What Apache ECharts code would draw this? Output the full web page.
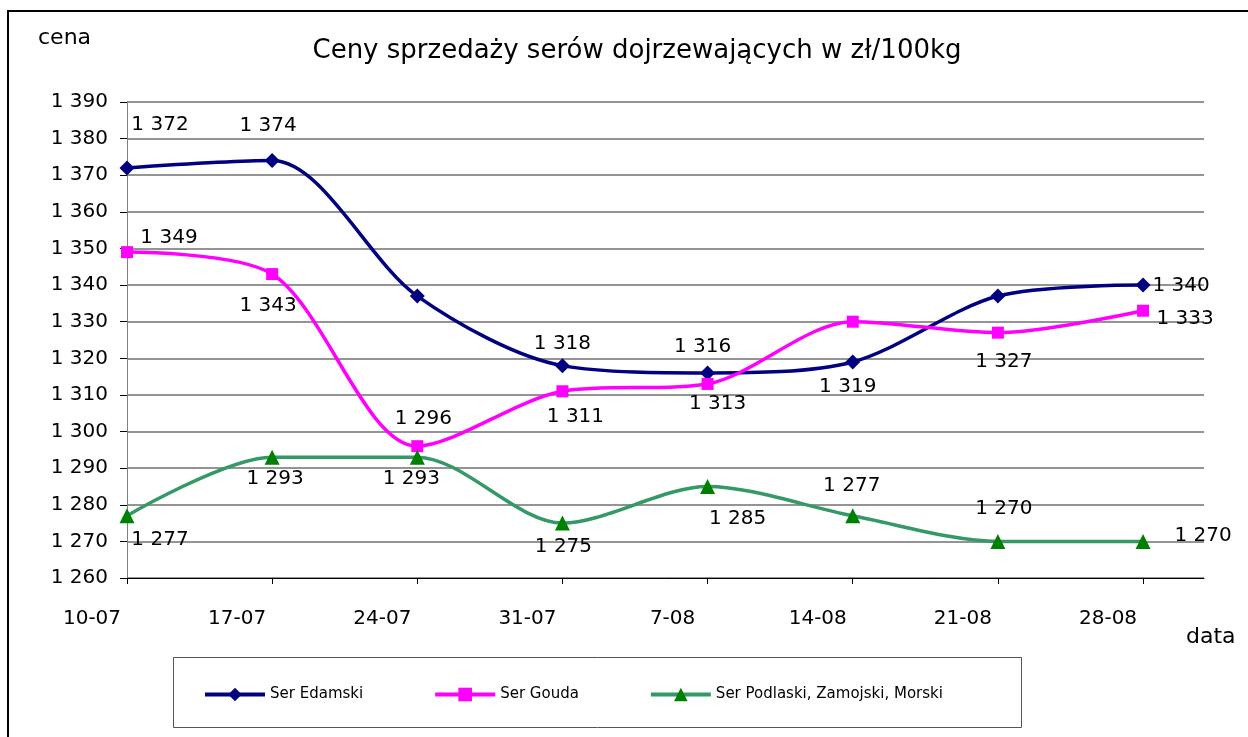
<!DOCTYPE html>
<html>
<head>
<meta charset="utf-8">
<script src="https://cdn.jsdelivr.net/npm/echarts@6/dist/echarts.min.js"></script>
<style>
  html, body { margin: 0; padding: 0; background: #fff; }
  #chart { width: 1248px; height: 737px; }
</style>
</head>
<body>
<div id="chart"></div>
<script>
// data
var categories = ['10-07', '17-07', '24-07', '31-07', '7-08', '14-08', '21-08', '28-08'];
var edamski = [1372, 1374, 1337, 1318, 1316, 1319, 1337, 1340];
var gouda = [1349, 1343, 1296, 1311, 1313, 1330, 1327, 1333];
var podlaski = [1277, 1293, 1293, 1275, 1285, 1277, 1270, 1270];
var yTicks = { min: 1260, max: 1390, step: 10 };

// where each value label sits relative to its point (null = not shown)
var edamskiLabelPos = [[33, -43], [-4, -35], null, [0, -22], [-5, -26], [-5, 25], null, [38, 1]];
var goudaLabelPos = [[42, -14], [-4, 32], [6, -27], [13, 26], [10, 20], null, [6, 29], [42, 8]];
var podlaskiLabelPos = [[33, 24], [3, 22], [-6, 22], [1, 24], [30, 32], [-1, -30], [6, -33], [60, -6]];

var FONT = '"DejaVu Sans", sans-serif';

function fmt(v) {
  return String(v).replace(/\B(?=(\d{3})+(?!\d))/g, ' ');
}

function buildData(values, pos) {
  return values.map(function (v, i) {
    var p = pos[i];
    return {
      value: [i, v],
      label: p ? { show: true, position: 'inside', offset: p } : { show: false }
    };
  });
}

function lineSeries(name, values, pos, color, lineColor, symbol, size) {
  return {
    name: name,
    type: 'line',
    smooth: 0.3,
    symbol: symbol,
    symbolSize: size,
    data: buildData(values, pos),
    itemStyle: { color: color },
    lineStyle: { color: lineColor, width: 3.5 },
    label: {
      show: true,
      color: '#000',
      fontFamily: FONT,
      fontSize: 20,
      formatter: function (p) { return fmt(p.value[1]); }
    },
    emphasis: { disabled: true }
  };
}

var xIdx = categories.map(function (c, i) { return i; });

var chart = echarts.init(document.getElementById('chart'));
chart.setOption({
  animation: false,
  backgroundColor: '#fff',
  grid: { left: 127, top: 102, right: 44, bottom: 159 },
  xAxis: {
    type: 'value',
    min: 0,
    max: 7.42,
    interval: 1,
    axisLine: { show: true, lineStyle: { color: '#000', width: 1 } },
    axisTick: { show: true, length: 6, customValues: xIdx, lineStyle: { color: '#000' } },
    splitLine: { show: false },
    axisLabel: {
      customValues: xIdx,
      margin: 31,
      color: '#000',
      fontFamily: FONT,
      fontSize: 20,
      padding: [0, 70, 0, 0],
      formatter: function (v) { return categories[v] || ''; }
    }
  },
  yAxis: {
    type: 'value',
    min: yTicks.min,
    max: yTicks.max,
    interval: yTicks.step,
    axisLine: { show: true, lineStyle: { color: '#808080', width: 1 } },
    axisTick: { show: true, length: 7, lineStyle: { color: '#000' } },
    splitLine: { show: true, lineStyle: { color: '#707070', width: 1.5 } },
    axisLabel: {
      margin: 19,
      color: '#000',
      fontFamily: FONT,
      fontSize: 20,
      formatter: fmt
    }
  },
  legend: {
    left: 198,
    top: 682,
    itemWidth: 60,
    itemHeight: 17,
    itemGap: 70,
    lineStyle: { width: 4 },
    textStyle: { fontFamily: FONT, fontSize: 15, color: '#000' },
    data: ['Ser Edamski', 'Ser Gouda', 'Ser Podlaski, Zamojski, Morski']
  },
  graphic: [
    { type: 'rect', shape: { x: 8, y: 11, width: 1400, height: 900 }, style: { fill: 'none', stroke: '#000', lineWidth: 2 }, silent: true },
    { type: 'rect', shape: { x: 173.5, y: 657.5, width: 848, height: 70 }, style: { fill: 'none', stroke: '#555', lineWidth: 1 }, silent: true },
    { type: 'text', x: 637, y: 51, style: { text: 'Ceny sprzedaży serów dojrzewających w zł/100kg', font: '26px ' + FONT, fill: '#000', align: 'center', verticalAlign: 'middle' } },
    { type: 'text', x: 38, y: 38, style: { text: 'cena', font: '22px ' + FONT, fill: '#000', align: 'left', verticalAlign: 'middle' } },
    { type: 'text', x: 1186, y: 637, style: { text: 'data', font: '22px ' + FONT, fill: '#000', align: 'left', verticalAlign: 'middle' } }
  ],
  series: [
    lineSeries('Ser Edamski', edamski, edamskiLabelPos, '#000080', '#000080', 'diamond', 15),
    lineSeries('Ser Gouda', gouda, goudaLabelPos, '#FF00FF', '#FF00FF', 'rect', 12),
    lineSeries('Ser Podlaski, Zamojski, Morski', podlaski, podlaskiLabelPos, '#008000', '#339966', 'triangle', 15)
  ]
});
</script>
</body>
</html>
